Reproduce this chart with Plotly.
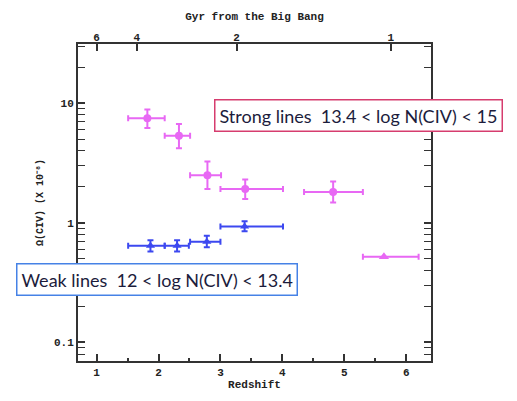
import plotly.graph_objects as go

# Strong CIV absorbers (13.4 < log N < 15)
strong_z = [1.82, 2.33, 2.79, 3.40, 4.82]
strong_z_lo = [1.51, 2.10, 2.51, 3.00, 4.35]
strong_z_hi = [2.10, 2.51, 3.01, 4.01, 5.30]
strong_omega = [7.5, 5.35, 2.5, 1.92, 1.81]
strong_omega_lo = [6.2, 4.2, 1.92, 1.58, 1.48]
strong_omega_hi = [8.85, 6.7, 3.25, 2.3, 2.22]

# Lower limit at the highest redshift bin
limit_z = [5.64]
limit_z_lo = [5.30]
limit_z_hi = [6.20]
limit_omega = [0.52]

# Weak CIV absorbers (12 < log N < 13.4)
weak_z = [1.87, 2.30, 2.78, 3.39]
weak_z_lo = [1.51, 2.10, 2.51, 3.00]
weak_z_hi = [2.10, 2.49, 3.00, 4.01]
weak_omega = [0.644, 0.644, 0.694, 0.93]
weak_omega_lo = [0.576, 0.576, 0.624, 0.852]
weak_omega_hi = [0.715, 0.715, 0.78, 1.03]

# Cosmic time axis: Gyr since the Big Bang at given redshifts
gyr_tick_z = [1.0, 1.65, 3.26, 5.75]
gyr_labels = ["6", "4", "2", "1"]

z_ticks = [1, 2, 3, 4, 5, 6]
omega_ticks = [0.1, 1, 10]
omega_tick_labels = ["0.1", "1", "10"]
omega_minor = [m * d for d in (0.01, 0.1, 1, 10) for m in range(2, 10)]

MAGENTA = "rgb(232,104,244)"
BLUE = "rgb(60,72,240)"
AXIS_FONT = dict(family="Liberation Mono", size=11, color="#222", weight="bold")


def sub(a, b):
    return [x - y for x, y in zip(a, b)]


fig = go.Figure()

fig.add_trace(go.Scatter(
    x=strong_z, y=strong_omega, mode="markers",
    marker=dict(symbol="circle", size=8, color=MAGENTA),
    error_x=dict(type="data", symmetric=False,
                 array=sub(strong_z_hi, strong_z), arrayminus=sub(strong_z, strong_z_lo),
                 color=MAGENTA, thickness=2, width=3),
    error_y=dict(type="data", symmetric=False,
                 array=sub(strong_omega_hi, strong_omega),
                 arrayminus=sub(strong_omega, strong_omega_lo),
                 color=MAGENTA, thickness=2, width=3),
    showlegend=False,
))

fig.add_trace(go.Scatter(
    x=limit_z, y=limit_omega, mode="markers",
    marker=dict(symbol="triangle-up", size=9, color=MAGENTA),
    error_x=dict(type="data", symmetric=False,
                 array=sub(limit_z_hi, limit_z), arrayminus=sub(limit_z, limit_z_lo),
                 color=MAGENTA, thickness=2, width=3),
    showlegend=False,
))

fig.add_trace(go.Scatter(
    x=weak_z, y=weak_omega, mode="markers",
    marker=dict(symbol="triangle-up", size=8, color=BLUE),
    error_x=dict(type="data", symmetric=False,
                 array=sub(weak_z_hi, weak_z), arrayminus=sub(weak_z, weak_z_lo),
                 color=BLUE, thickness=2, width=3),
    error_y=dict(type="data", symmetric=False,
                 array=sub(weak_omega_hi, weak_omega),
                 arrayminus=sub(weak_omega, weak_omega_lo),
                 color=BLUE, thickness=2, width=3),
    showlegend=False,
))

# invisible trace to activate the top (cosmic time) axis
fig.add_trace(go.Scatter(x=[z_ticks[0]], y=[omega_ticks[1]], xaxis="x2",
                         mode="markers", marker=dict(opacity=0), showlegend=False,
                         hoverinfo="skip"))

fig.update_layout(
    width=517, height=401,
    margin=dict(l=78, r=86, t=44, b=30),
    paper_bgcolor="white", plot_bgcolor="white",
    xaxis=dict(
        range=[0.7, 6.4], tickvals=z_ticks, ticks="inside", ticklen=7,
        tickwidth=1.5, tickcolor="#333", showgrid=False, zeroline=False,
        showline=True, linecolor="#333", linewidth=2, mirror=True,
        tickfont=AXIS_FONT,
        minor=dict(dtick=0.5, ticks="inside", ticklen=3, tickcolor="#333", showgrid=False),
        title=dict(text="Redshift", font=AXIS_FONT, standoff=2),
    ),
    xaxis2=dict(
        overlaying="x", side="top", range=[0.7, 6.4],
        tickvals=gyr_tick_z, ticktext=gyr_labels, ticks="inside", ticklen=7,
        tickwidth=1.5, tickcolor="#333", showgrid=False, zeroline=False,
        showline=False, tickfont=AXIS_FONT,
        title=dict(text="Gyr from the Big Bang", font=AXIS_FONT, standoff=8),
    ),
    yaxis=dict(
        type="log", range=[-1.155, 1.495],
        tickvals=omega_ticks, ticktext=omega_tick_labels,
        ticks="inside", ticklen=7, tickwidth=1.5, tickcolor="#333",
        showgrid=False, zeroline=False,
        showline=True, linecolor="#333", linewidth=2, mirror="allticks",
        tickfont=AXIS_FONT,
        minor=dict(tickvals=omega_minor, ticks="inside", ticklen=4, tickwidth=1.2,
                   tickcolor="#333", showgrid=False),
        title=dict(text="Ω(CIV) (X 10⁻⁸)", font=dict(family="Liberation Mono", size=10,
                                                    color="#222", weight="bold"),
                   standoff=8),
    ),
    annotations=[
        dict(text="Strong lines  13.4 < log N(CIV) < 15", xref="paper", yref="paper",
             x=0.796, y=0.775, xanchor="center", yanchor="middle", showarrow=False,
             font=dict(family="Lato", size=18, color="#1c1c3c"),
             bordercolor="rgb(214,60,110)", borderwidth=1.5, borderpad=4,
             bgcolor="white"),
        dict(text="Weak lines  12 < log N(CIV) < 13.4", xref="paper", yref="paper",
             x=0.225, y=0.257, xanchor="center", yanchor="middle", showarrow=False,
             font=dict(family="Lato", size=18, color="#1c1c3c"),
             bordercolor="rgb(70,130,230)", borderwidth=1.5, borderpad=4,
             bgcolor="white"),
    ],
)

fig.write_html("out.html")
